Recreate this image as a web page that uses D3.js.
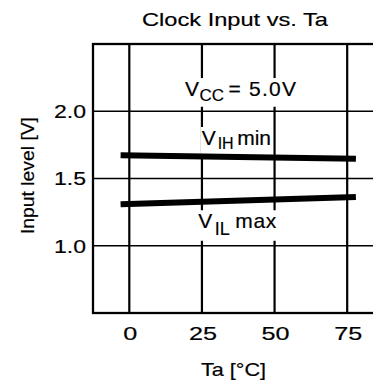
<!DOCTYPE html>
<html>
<head>
<meta charset="utf-8">
<script src="https://cdn.jsdelivr.net/npm/d3@7/dist/d3.min.js"></script>
<style>
  html, body { margin: 0; padding: 0; background: #fff; }
  svg { display: block; }
  text { font-family: "Liberation Sans", Arial, Helvetica, sans-serif; fill: #000; stroke: #000; stroke-width: 0.18; }
</style>
</head>
<body>
<svg id="chart" width="373" height="385"></svg>
<script>
// Ambient temperature ticks and input-level ticks
const tempTicks = [0, 25, 50, 75];
const voltTicks = [1.0, 1.5, 2.0];

// Threshold curves over temperature (°C → V)
const tempSamples = [-3, 78];
const vihMin = [1.672, 1.646];
const vilMax = [1.308, 1.362];

const titleText = "Clock Input vs. Ta";
const xTitle = "Ta [°C]";
const yTitle = "Input level [V]";

const svg = d3.select("#chart");
const frame = { left: 93, right: 383.5, top: 44, bottom: 313 };

const x = d3.scaleLinear().domain([-12.5, 87.5]).range([frame.left, frame.right]);
const y = d3.scaleLinear().domain([0.5, 2.5]).range([frame.bottom, frame.top]);

// Stretch text to a given advance width (the lettering is wide and tracked)
function fitWidth(sel, w) {
  sel.each(function (d, i) {
    const target = typeof w === "function" ? w(d, i) : w;
    d3.select(this).attr("textLength", target).attr("lengthAdjust", "spacingAndGlyphs");
  });
}

// Grid lines
const grid = svg.append("g");
grid.selectAll("line.v").data(tempTicks).join("line")
  .attr("x1", d => x(d)).attr("x2", d => x(d))
  .attr("y1", frame.top).attr("y2", frame.bottom)
  .attr("stroke", "#000").attr("stroke-width", 2.2);
grid.selectAll("line.h").data(voltTicks).join("line")
  .attr("x1", frame.left).attr("x2", frame.right)
  .attr("y1", d => y(d)).attr("y2", d => y(d))
  .attr("stroke", "#000").attr("stroke-width", 1.7);

// Frame
svg.append("rect")
  .attr("x", frame.left).attr("y", frame.top)
  .attr("width", frame.right - frame.left).attr("height", frame.bottom - frame.top)
  .attr("fill", "none").attr("stroke", "#000").attr("stroke-width", 2.3);

// Curve annotations: white boxes knock out the grid behind the lettering
function annotate(t, v, pieces) {
  const g = svg.append("g").attr("transform", `translate(${x(t)},${y(v)})`);
  const bg = g.append("rect").attr("fill", "#fff");
  pieces.forEach(p => {
    const el = g.append("text")
      .attr("x", p.dx).attr("y", p.dy || 0)
      .attr("font-size", p.size)
      .text(p.s);
    if (p.ls) el.attr("letter-spacing", p.ls);
  });
  const bb = g.node().getBBox();
  bg.attr("x", bb.x - 1).attr("y", bb.y + 1)
    .attr("width", bb.width + 2).attr("height", bb.height + 1);
  return g;
}

annotate(19.2, 2.113, [
  { s: "V", dx: 0, size: 21 },
  { s: "CC", dx: 14.5, dy: 4.7, size: 17 },
  { s: "= 5.0V", dx: 43.5, size: 21, ls: 1.2 }
]);
annotate(24.9, 1.749, [
  { s: "V", dx: 0, size: 21 },
  { s: "IH", dx: 16, dy: 4.3, size: 16 },
  { s: "min", dx: 35.5, size: 21 }
]);
annotate(23.75, 1.13, [
  { s: "V", dx: 0, size: 21 },
  { s: "IL", dx: 16.5, dy: 6.5, size: 18 },
  { s: "max", dx: 37, size: 21, ls: 0.6 }
]);

// Threshold curves
const line = d3.line().x(d => x(d[0])).y(d => y(d[1]));
[vihMin, vilMax].forEach(vals => {
  svg.append("path")
    .datum(tempSamples.map((t, i) => [t, vals[i]]))
    .attr("d", line)
    .attr("fill", "none").attr("stroke", "#000").attr("stroke-width", 6);
});

// Tick labels
svg.append("g").selectAll("text").data(voltTicks).join("text")
  .attr("x", frame.left - 7).attr("y", d => y(d) + 6.8)
  .attr("text-anchor", "end").attr("font-size", 18.5)
  .text(d3.format(".1f"))
  .call(fitWidth, 32);

svg.append("g").selectAll("text").data(tempTicks).join("text")
  .attr("x", d => x(d) + 1).attr("y", 339.5)
  .attr("text-anchor", "middle").attr("font-size", 17.5)
  .text(d => d)
  .call(fitWidth, d => String(d).length * 14);

// Titles
svg.append("text")
  .attr("x", 235).attr("y", 26)
  .attr("text-anchor", "middle").attr("font-size", 18.5)
  .text(titleText)
  .call(fitWidth, 186);

svg.append("text")
  .attr("x", 233.5).attr("y", 375.5)
  .attr("text-anchor", "middle").attr("font-size", 18.5)
  .text(xTitle)
  .call(fitWidth, 65);

svg.append("text")
  .attr("transform", "translate(34,175.5) rotate(-90)")
  .attr("text-anchor", "middle").attr("font-size", 17.5)
  .text(yTitle)
  .call(fitWidth, 117);
</script>
</body>
</html>
